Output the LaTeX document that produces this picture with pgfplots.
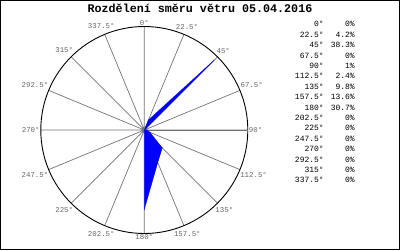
\documentclass[border=0pt]{standalone}
\usepackage{pgfplots}
\pgfplotsset{compat=1.18}
\usepgfplotslibrary{polar}
\usepackage{fontspec}
\setmainfont{Liberation Mono}
\begin{document}
\begin{tikzpicture}[x=1pt,y=1pt]
\draw[black, line width=1pt] (0.5,0.5) rectangle (399.5,249.5);
\node[font=\fontsize{11.7}{13}\selectfont\bfseries] at (200,241.5) {Rozdělení směru větru 05.04.2016};
\begin{polaraxis}[
  at={(144.3pt,120pt)}, anchor=center,
  scale only axis, width=207pt, height=207pt,
  xmin=0, xmax=360, ymin=0, ymax=40,
  ytick=\empty,
  xtick={90,67.5,45,22.5,0,337.5,315,292.5,270,247.5,225,202.5,180,157.5,135,112.5},
  xticklabels={0°,22.5°,45°,67.5°,90°,112.5°,135°,157.5°,180°,202.5°,225°,247.5°,270°,292.5°,315°,337.5°},
  xmajorgrids,
  major grid style={black!55, line width=0.7pt},
  xticklabel style={font=\fontsize{7.4}{8}\selectfont, text=black!60, inner sep=1pt},
  x axis line style={black, line width=0.9pt},
  y axis line style={draw=none},
  major tick length=0pt,
]
\addplot[black!55, line width=0.7pt] coordinates {(0,0) (0,40)};
\addplot[fill=blue, draw=blue, line width=0.3pt] coordinates {
 (90,0) (67.5,4.2) (45,38.3) (22.5,0) (0,1) (337.5,2.4) (315,9.8) (292.5,13.6)
 (270,30.7) (247.5,0) (225,0) (202.5,0) (180,0) (157.5,0) (135,0) (112.5,0)
} -- cycle;
\end{polaraxis}
\node[anchor=north east, inner sep=0pt, font=\fontsize{8}{10.4}\selectfont] at (355,230.5) {%
\begin{tabular}{@{}r@{}r@{}}
0°&\makebox[31pt][r]{0\%}\\
22.5°&\makebox[31pt][r]{4.2\%}\\
45°&\makebox[31pt][r]{38.3\%}\\
67.5°&\makebox[31pt][r]{0\%}\\
90°&\makebox[31pt][r]{1\%}\\
112.5°&\makebox[31pt][r]{2.4\%}\\
135°&\makebox[31pt][r]{9.8\%}\\
157.5°&\makebox[31pt][r]{13.6\%}\\
180°&\makebox[31pt][r]{30.7\%}\\
202.5°&\makebox[31pt][r]{0\%}\\
225°&\makebox[31pt][r]{0\%}\\
247.5°&\makebox[31pt][r]{0\%}\\
270°&\makebox[31pt][r]{0\%}\\
292.5°&\makebox[31pt][r]{0\%}\\
315°&\makebox[31pt][r]{0\%}\\
337.5°&\makebox[31pt][r]{0\%}\\
\end{tabular}};
\end{tikzpicture}
\end{document}
